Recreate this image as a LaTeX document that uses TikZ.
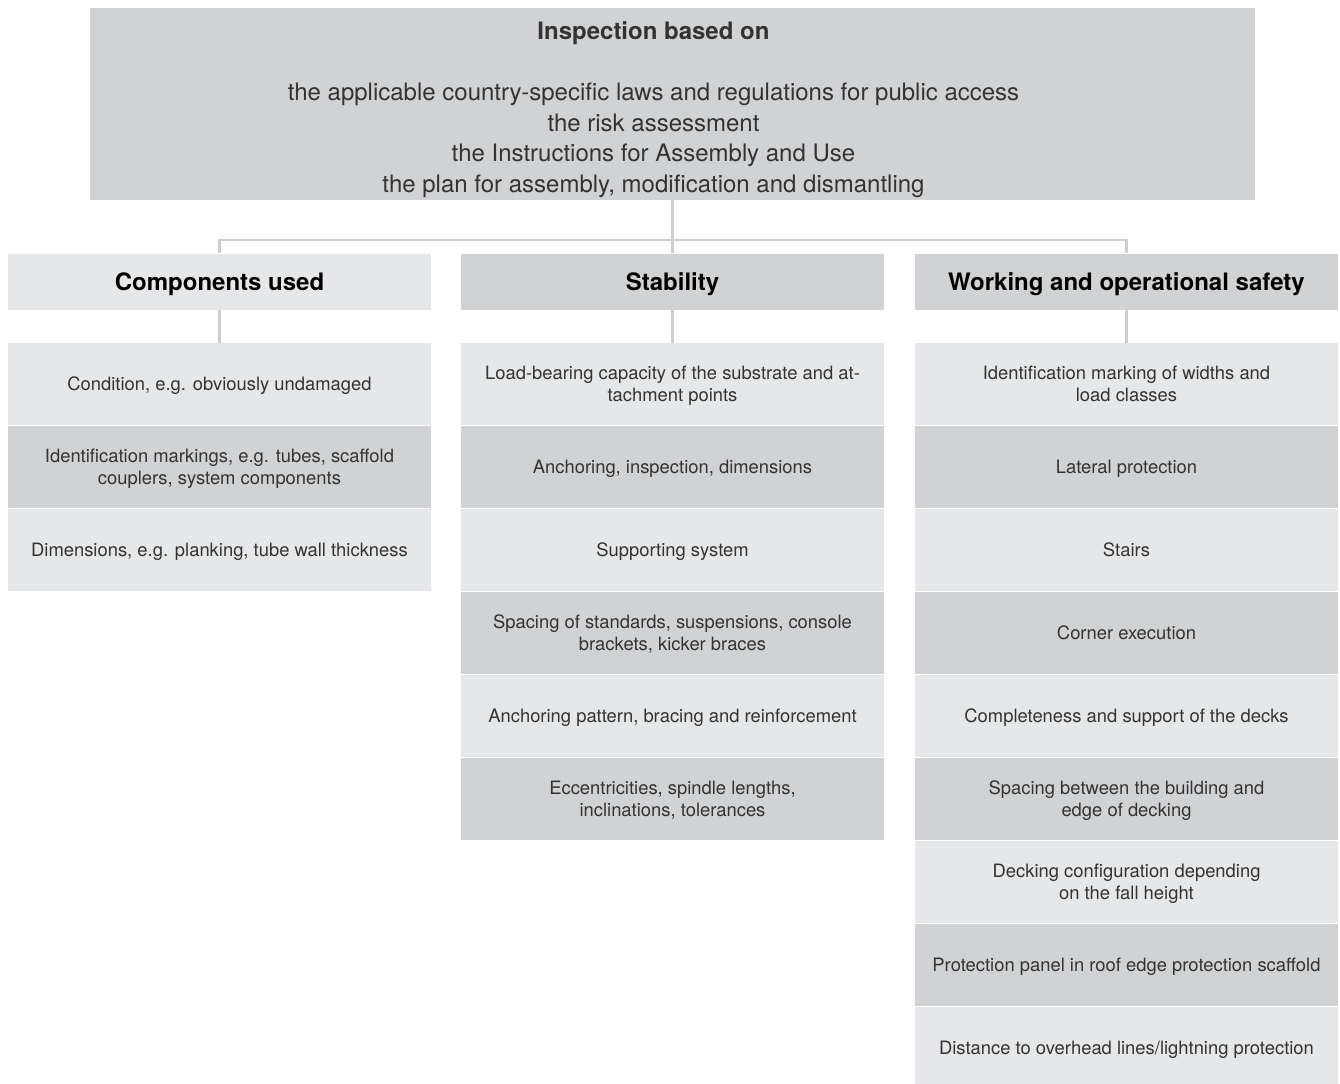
\documentclass[tikz,border=0pt]{standalone}
\usepackage{fontspec}
\setmainfont{TeX Gyre Heros}
\definecolor{boxdark}{HTML}{D1D2D4}
\definecolor{boxlight}{HTML}{E6E7E8}
\definecolor{wire}{HTML}{CDCED0}
\definecolor{ink}{HTML}{333333}
\tikzset{
    cell/.style={rectangle, inner sep=0pt, text=ink, align=center,
        minimum width=211.5pt, minimum height=41pt, text depth=-2pt,
        font=\fontsize{9.2}{11}\selectfont},
    head/.style={cell, minimum height=28pt, text=black, text depth=0pt,
        font=\fontsize{12}{14}\selectfont\bfseries},
    light/.style={fill=boxlight},
    dark/.style={fill=boxdark},
    link/.style={draw=wire, line width=1.2pt}
}
\begin{document}
\begin{tikzpicture}[x=0.5pt, y=-0.5pt]
    \useasboundingbox[fill=white] (0,0) rectangle (1340,1083);
    \node[cell, dark, minimum width=582.5pt, minimum height=96pt] (insp) at (672.5,104) {};
    \node[cell, text=ink, xshift=-9.5pt, yshift=-1.5pt, text depth=0pt,
          font=\fontsize{12}{15.25}\selectfont] (insptxt) at (insp.center)
        {{\bfseries Inspection based on}\\[15.25pt]
         the applicable country-specific laws and regulations for public access\\
         the risk assessment\\
         the Instructions for Assembly and Use\\
         the plan for assembly, modification and dismantling};
    % column headers
    \node[head, light] (comp) at (219.5,281.5) {Components used};
    \node[head, dark]  (stab) at (672.5,281.5) {Stability};
    \node[head, dark]  (safe) at (1126.5,281.5) {Working and operational safety};
    % items, one column after the other
    \foreach \txt [count=\i] in {
        {Condition, e.g. obviously undamaged},
        {Identification markings, e.g. tubes, scaffold\\couplers, system components},
        {Dimensions, e.g. planking, tube wall thickness}}
    {
        \pgfmathsetmacro\shade{isodd(\i) ? "light" : "dark"}
        \node[cell, \shade] (comp\i) at (219.5,343+83*\i-42) {\txt};
    }
    \foreach \txt [count=\i] in {
        {Load-bearing capacity of the substrate and at-\\tachment points},
        {Anchoring, inspection, dimensions},
        {Supporting system},
        {Spacing of standards, suspensions, console\\brackets, kicker braces},
        {Anchoring pattern, bracing and reinforcement},
        {Eccentricities, spindle lengths,\\inclinations, tolerances}}
    {
        \pgfmathsetmacro\shade{isodd(\i) ? "light" : "dark"}
        \node[cell, \shade] (stab\i) at (672.5,343+83*\i-42) {\txt};
    }
    \foreach \txt [count=\i] in {
        {Identification marking of widths and\\load classes},
        {Lateral protection},
        {Stairs},
        {Corner execution},
        {Completeness and support of the decks},
        {Spacing between the building and\\edge of decking},
        {Decking configuration depending\\on the fall height},
        {Protection panel in roof edge protection scaffold},
        {Distance to overhead lines/lightning protection}}
    {
        \pgfmathsetmacro\shade{isodd(\i) ? "light" : "dark"}
        \node[cell, \shade] (safe\i) at (1126.5,343+83*\i-42) {\txt};
    }
    % connectors
    \coordinate (fork) at (672.5,240);
    \draw[link] (insp.south) -- (fork);
    \draw[link] (comp.north) |- (fork) -| (safe.north);
    \draw[link] (fork) -- (stab.north);
    \draw[link] (comp.south) -- (comp1.north);
    \draw[link] (stab.south) -- (stab1.north);
    \draw[link] (safe.south) -- (safe1.north);
\end{tikzpicture}
\end{document}
